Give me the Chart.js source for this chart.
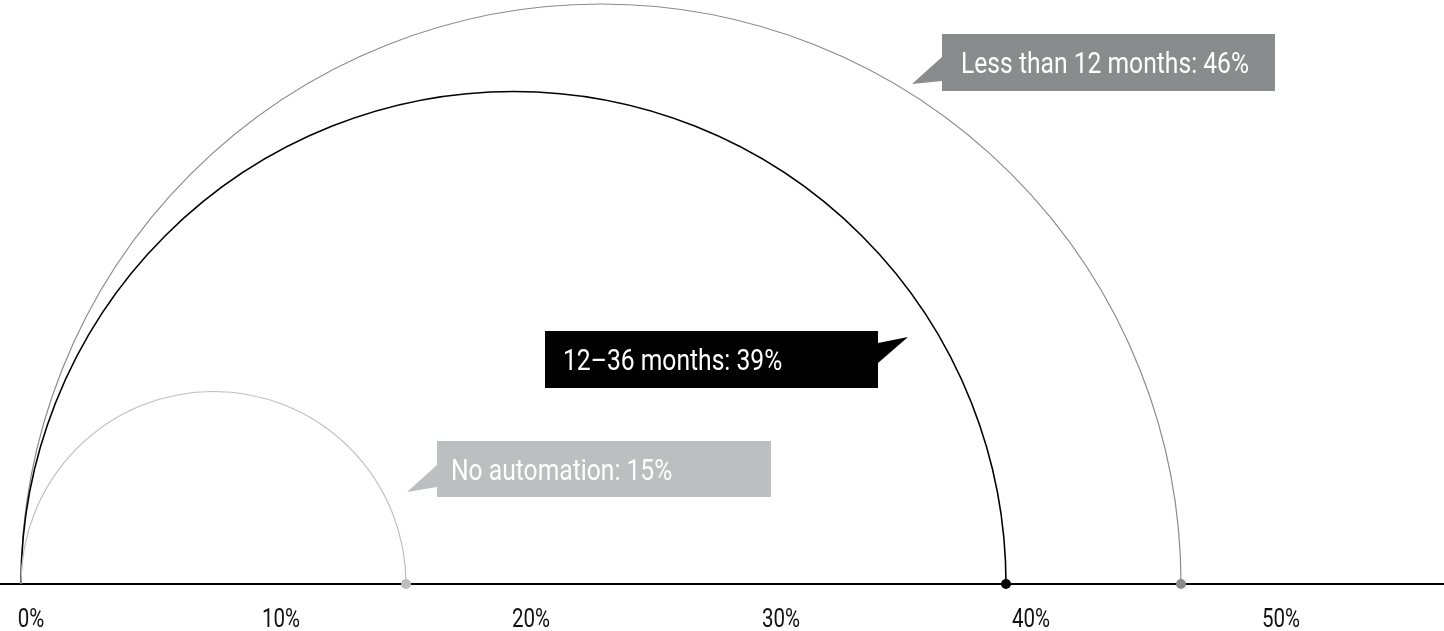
<!DOCTYPE html>
<html>
<head>
<meta charset="utf-8">
<script src="https://cdn.jsdelivr.net/npm/chart.js@4.4.1/dist/chart.umd.min.js"></script>
<style>
  html, body { margin: 0; padding: 0; background: #fff; overflow: hidden; }
  #wrap { width: 1444px; height: 631px; position: relative; }
</style>
</head>
<body>
<div id="wrap"><canvas id="chart"></canvas></div>
<script>
// Time to automation, share of respondents
const categories = ['Less than 12 months', '12–36 months', 'No automation'];
const shares = [46, 39, 15];
const tickValues = [0, 10, 20, 30, 40, 50];
const tickLabels = ['0%', '10%', '20%', '30%', '40%', '50%'];

const palette = ['#8a8b8d', '#000000', '#bdbec0'];

// Roboto squeezed horizontally to get a condensed face
function condensedText(ctx, text, x, y, size, squeeze, align, color) {
  ctx.save();
  ctx.font = size + 'px Roboto, "Noto Sans", sans-serif';
  ctx.textBaseline = 'alphabetic';
  ctx.textAlign = 'left';
  const w = ctx.measureText(text).width * squeeze;
  const left = align === 'center' ? x - w / 2 : x;
  ctx.translate(left, y);
  ctx.scale(squeeze, 1);
  ctx.fillStyle = color;
  ctx.fillText(text, 0, 0);
  ctx.restore();
}

// Half circles rising from the baseline, one per category
const halfArcs = {
  id: 'halfArcs',
  beforeDatasetsDraw(chart, args, opts) {
    const { ctx } = chart;
    const xs = chart.scales.x, ys = chart.scales.y;
    const base = ys.getPixelForValue(0);
    const x0 = xs.getPixelForValue(0) + opts.startShift;
    shares.forEach((v, i) => {
      const x1 = xs.getPixelForValue(v);
      const r = (x1 - x0) / 2;
      ctx.save();
      ctx.beginPath();
      ctx.arc(x0 + r, base, r, Math.PI, 2 * Math.PI);
      ctx.strokeStyle = palette[i];
      ctx.lineWidth = opts.widths[i];
      ctx.stroke();
      ctx.restore();
    });
  }
};

// Axis tick labels in the condensed face
const axisLabels = {
  id: 'axisLabels',
  afterDraw(chart, args, opts) {
    const { ctx } = chart;
    const xs = chart.scales.x;
    tickValues.forEach((v, i) => {
      condensedText(ctx, tickLabels[i], xs.getPixelForValue(v), opts.baseline,
        opts.size, opts.squeeze, 'center', opts.color);
    });
  }
};

// Speech-bubble labels naming each category and its share
const callouts = {
  id: 'callouts',
  afterDraw(chart, args, opts) {
    const { ctx } = chart;
    opts.boxes.forEach((b, i) => {
      ctx.save();
      ctx.fillStyle = palette[i];
      ctx.fillRect(b.x, b.y, b.w, b.h);
      ctx.beginPath();
      ctx.moveTo(b.tail[0][0], b.tail[0][1]);
      ctx.lineTo(b.tail[1][0], b.tail[1][1]);
      ctx.lineTo(b.tail[2][0], b.tail[2][1]);
      ctx.closePath();
      ctx.fill();
      ctx.restore();
      condensedText(ctx, categories[i] + ': ' + shares[i] + '%', b.tx, b.ty,
        opts.size, opts.squeeze, 'left', '#ffffff');
    });
  }
};

new Chart(document.getElementById('chart'), {
  type: 'scatter',
  data: {
    datasets: [{
      data: shares.map(v => ({ x: v, y: 0 })),
      pointRadius: 5,
      pointHoverRadius: 5,
      pointBorderWidth: 0,
      pointBackgroundColor: palette,
      showLine: false,
      clip: false
    }]
  },
  options: {
    responsive: true,
    maintainAspectRatio: false,
    animation: false,
    events: [],
    layout: { padding: 0, autoPadding: false },
    scales: {
      x: {
        type: 'linear',
        min: -1.24,
        max: 56.52,
        grid: { display: false },
        border: { display: true, color: '#000000', width: 2 },
        ticks: { display: false },
        afterBuildTicks: s => { s.ticks = tickValues.map(v => ({ value: v })); },
        afterFit: s => { s.height = 47; }
      },
      y: { display: false, min: 0, max: 1 }
    },
    plugins: {
      legend: { display: false },
      tooltip: { enabled: false },
      halfArcs: { startShift: -10, widths: [1.2, 1.6, 1.2] },
      axisLabels: { baseline: 627, size: 25, squeeze: 0.82, color: '#111111' },
      callouts: {
        size: 29,
        squeeze: 0.85,
        boxes: [
          { x: 942, y: 34, w: 333, h: 57, tail: [[942, 57], [912, 84], [942, 81]], tx: 961, ty: 73 },
          { x: 545, y: 331, w: 333, h: 57, tail: [[878, 343], [908, 337], [878, 363]], tx: 563, ty: 370 },
          { x: 437, y: 441, w: 334, h: 56, tail: [[437, 465], [407, 492], [437, 487]], tx: 451, ty: 480 }
        ]
      }
    }
  },
  plugins: [halfArcs, axisLabels, callouts]
});
</script>
</body>
</html>
